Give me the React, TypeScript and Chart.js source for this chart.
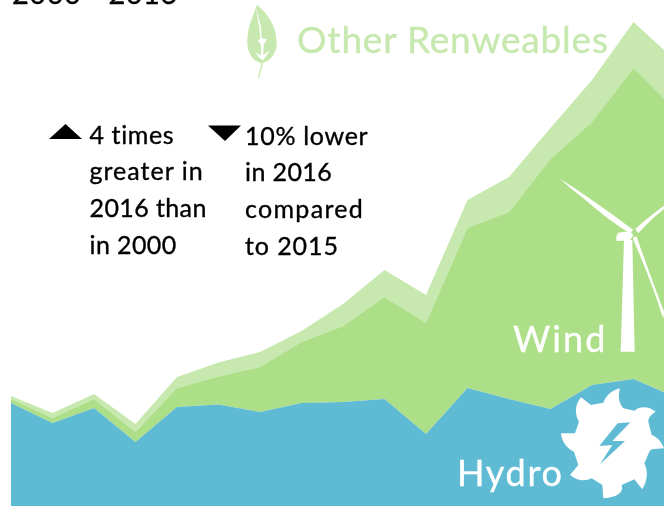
import React, { useEffect, useRef } from "react";
import { Chart, registerables } from "chart.js";

Chart.register(...registerables);

const years = [2000, 2001, 2002, 2003, 2004, 2005, 2006, 2007, 2008, 2009, 2010, 2011, 2012, 2013, 2014, 2015, 2016];
const hydro = [103, 83, 98, 64, 99, 101.5, 94, 103, 104, 107, 72, 118, 107, 97, 121, 127, 109];
const wind = [4, 5, 9, 10, 19, 28, 45, 61, 76, 102, 111, 160, 187, 250, 263, 311, 287];
const otherRenewables = [3, 5, 5, 8, 11, 14, 15, 11, 22, 27, 28, 28, 35, 31, 42, 46, 50];

const seriesNames = ["Hydro", "Wind", "Other Renweables"];
const colors = ["#5fbbd4", "#acdf87", "#c7e8ae"];
const title = "2000 - 2016";
const upNote = ["4 times", "greater in", "2016 than", "in 2000"];
const upSpacing = [0.6, 1, 0.4, 0.4];
const downNote = ["10% lower", "in 2016", "compared", "to 2015"];
const downSpacing = [0.7, 0.4, 1.3, 0.9];

const FONT = "Lato, sans-serif";

function txt(x: number, y: number, size: number, color: string, s: string, key: string, ls = 0, stroke = 0.35) {
  return (
    <div
      key={key}
      style={{
        position: "absolute",
        left: x,
        top: y,
        fontFamily: FONT,
        fontSize: size,
        lineHeight: `${size}px`,
        color,
        whiteSpace: "pre",
        letterSpacing: ls,
        WebkitTextStroke: `${stroke}px ${color}`,
      }}
    >
      {s}
    </div>
  );
}

export default function App() {
  const ref = useRef<HTMLCanvasElement>(null);
  useEffect(() => {
    const series = [hydro, wind, otherRenewables];
    const chart = new Chart(ref.current!, {
      type: "line",
      data: {
        datasets: series.map((vals, i) => ({
          label: seriesNames[i],
          data: years.map((y, j) => ({ x: y, y: vals[j] })),
          backgroundColor: colors[i],
          borderWidth: 0,
          pointRadius: 0,
          tension: 0,
          fill: i === 0 ? "origin" : "-1",
        })),
      },
      options: {
        animation: false,
        responsive: false,
        layout: { padding: 0 },
        plugins: { legend: { display: false }, tooltip: { enabled: false }, title: { display: false } },
        scales: {
          x: { type: "linear", display: false, min: 1999.735, max: 2015.735, stacked: true },
          y: { display: false, min: 0, max: 506, stacked: true },
        },
      },
    });
    return () => chart.destroy();
  }, []);

  return (
    <div style={{ position: "fixed", left: 0, top: 0, width: 664, height: 506, overflow: "hidden", background: "#fff" }}>
      <canvas ref={ref} width={664} height={506} style={{ position: "absolute", left: 0, top: 0 }} />
      <svg width={664} height={506} style={{ position: "absolute", left: 0, top: 0 }}>
        <polygon points="49,139 82,139 65.5,124" fill="#000" />
        <polygon points="208,125.5 241,125.5 225,141" fill="#000" />
        <g transform="translate(235 0) scale(0.3333)">
          <path
            d="M66 14 C95 40 122 70 125 125 C127 160 105 182 85 188 L72 235 L68 235 L80 190 C55 185 38 160 37 130 C35 85 55 45 66 14 Z"
            fill={colors[2]}
          />
          <path d="M62 20 L78 80 L80 115 L96 118 L86 135 L85 165 L105 150 L85 180 L78 178 L60 158 L78 165 L78 135 L68 120 L76 118 L74 90 Z" fill="#fff" />
        </g>
        <g transform="translate(550 165) scale(0.3333)" fill="#fff">
          <path d="M212 560 L254 560 L247 225 L222 225 Z" />
          <path d="M205 203 L240 198 L250 210 L240 226 L200 228 Q196 215 205 203 Z" />
          <path d="M28 40 Q130 105 250 195 L240 205 Q180 170 100 100 Q60 70 28 40 Z" />
          <path d="M256 192 Q290 160 342 122 L342 132 Q295 170 265 205 Z" />
          <path d="M250 215 L260 215 Q300 330 342 440 L340 462 Q305 350 250 225 Z" />
        </g>
        <g transform="translate(555 380) scale(0.3333)">
          <path
            d="M78 52 L108 75 L145 68 C155 42 175 30 195 25 C188 50 192 70 205 85 L238 92 C255 78 280 78 302 95 C285 105 280 115 280 125 L290 165 C305 170 320 185 327 205 L290 208 L283 215 L268 250 C280 275 278 300 262 328 L238 298 L200 315 C207 335 190 352 145 355 L142 315 L110 295 C90 305 65 302 45 285 L70 255 L57 215 C35 205 20 185 18 160 L60 160 L72 125 C58 100 60 75 78 52 Z"
            fill="#fff"
          />
          <path d="M226 127 L188 130 L133 198 L172 195 L135 253 L210 183 L172 183 Z" fill={colors[0]} />
        </g>
      </svg>
      {txt(12, -22, 29, "#000", title, "t", 0.5)}
      {txt(297, 19.5, 37, colors[2], "Other Renweables", "o", 0.8)}
      {txt(513, 320, 36, "#fff", "Wind", "w", 2.1)}
      {txt(457, 454, 36, "#fff", "Hydro", "h", 1.7)}
      {upNote.map((s, i) => txt(89.5, 121.5 + i * 36.7, 25, "#000", s, `u${i}`, upSpacing[i]))}
      {downNote.map((s, i) => txt(245, 122.5 + i * 36.7, 25, "#000", s, `d${i}`, downSpacing[i]))}
    </div>
  );
}
